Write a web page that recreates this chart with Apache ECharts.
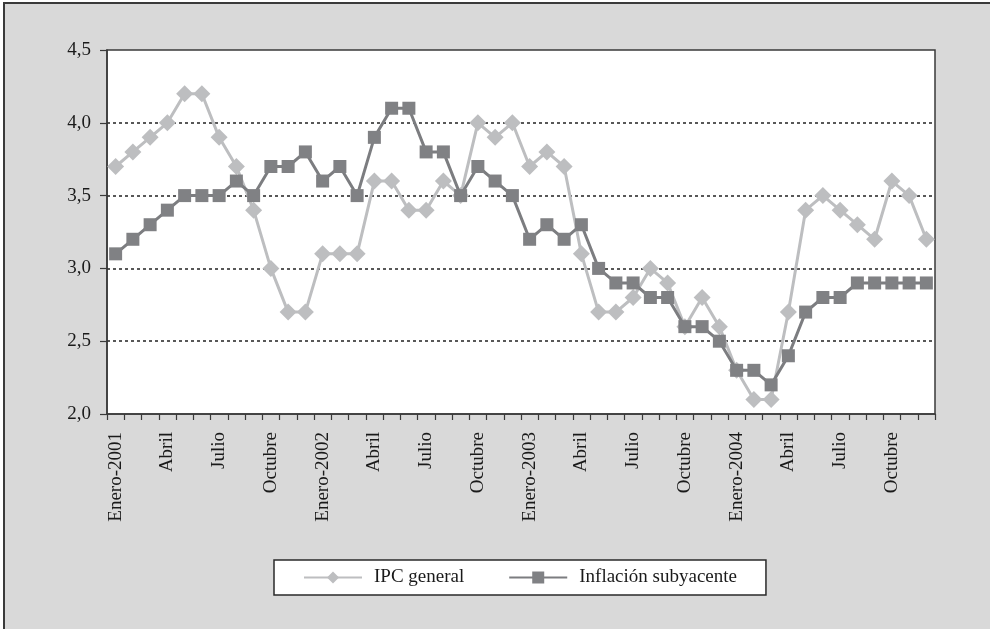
<!DOCTYPE html>
<html>
<head>
<meta charset="utf-8">
<style>
  html, body { margin: 0; padding: 0; background: #ffffff; }
  #chart { width: 990px; height: 629px; }
</style>
<script src="https://cdn.jsdelivr.net/npm/echarts@6/dist/echarts.min.js"></script>
</head>
<body>
<div id="chart"></div>
<script>
// Monthly series, January 2001 to December 2004
const monthNames = ['Enero', 'Febrero', 'Marzo', 'Abril', 'Mayo', 'Junio',
  'Julio', 'Agosto', 'Septiembre', 'Octubre', 'Noviembre', 'Diciembre'];
const years = [2001, 2002, 2003, 2004];

// IPC general (%)
const ipcGeneral = [
  3.7, 3.8, 3.9, 4.0, 4.2, 4.2, 3.9, 3.7, 3.4, 3.0, 2.7, 2.7,
  3.1, 3.1, 3.1, 3.6, 3.6, 3.4, 3.4, 3.6, 3.5, 4.0, 3.9, 4.0,
  3.7, 3.8, 3.7, 3.1, 2.7, 2.7, 2.8, 3.0, 2.9, 2.6, 2.8, 2.6,
  2.3, 2.1, 2.1, 2.7, 3.4, 3.5, 3.4, 3.3, 3.2, 3.6, 3.5, 3.2
];

// Inflación subyacente (%)
const inflacionSubyacente = [
  3.1, 3.2, 3.3, 3.4, 3.5, 3.5, 3.5, 3.6, 3.5, 3.7, 3.7, 3.8,
  3.6, 3.7, 3.5, 3.9, 4.1, 4.1, 3.8, 3.8, 3.5, 3.7, 3.6, 3.5,
  3.2, 3.3, 3.2, 3.3, 3.0, 2.9, 2.9, 2.8, 2.8, 2.6, 2.6, 2.5,
  2.3, 2.3, 2.2, 2.4, 2.7, 2.8, 2.8, 2.9, 2.9, 2.9, 2.9, 2.9
];

// Category labels: January carries the year, the rest only the month name
const categories = [];
years.forEach(y => monthNames.forEach((m, i) => {
  categories.push(i === 0 ? m + '-' + y : m);
}));

const FONT = 'Liberation Serif';
const TEXT = '#1a1a1a';
const FONT_SIZE = 19;

const chart = echarts.init(document.getElementById('chart'), null, { renderer: 'canvas' });
chart.setOption({
  animation: false,
  backgroundColor: '#ffffff',
  textStyle: { fontFamily: FONT, color: TEXT },
  graphic: [{
    type: 'rect',
    z: -10,
    silent: true,
    shape: { x: 4, y: 3, width: 1010, height: 660 },
    style: { fill: '#d9d9d9', stroke: '#3a3a3a', lineWidth: 2 }
  }],
  grid: {
    left: 107, top: 50, right: 55, bottom: 215,
    show: true,
    backgroundColor: '#ffffff',
    borderColor: '#3a3a3a',
    borderWidth: 1.5
  },
  legend: {
    left: 274, top: 560,
    padding: [8, 29, 8, 29],
    itemGap: 44,
    itemWidth: 58,
    itemHeight: 15,
    backgroundColor: '#ffffff',
    borderColor: '#2a2a2a',
    borderWidth: 1.5,
    borderRadius: 0,
    textStyle: { fontFamily: FONT, fontSize: FONT_SIZE, color: TEXT, padding: [0, 0, 0, 7] },
    data: ['IPC general', 'Inflación subyacente']
  },
  xAxis: {
    type: 'category',
    boundaryGap: true,
    data: categories,
    axisLine: { show: true, lineStyle: { color: '#3a3a3a', width: 1.5 } },
    axisTick: { show: true, interval: 0, length: 6, inside: false, lineStyle: { color: '#3a3a3a', width: 1.2 } },
    axisLabel: {
      interval: 2,
      rotate: 90,
      margin: 18,
      fontFamily: FONT,
      fontSize: FONT_SIZE,
      color: TEXT
    },
    splitLine: { show: false }
  },
  yAxis: {
    type: 'value',
    min: 2.0, max: 4.5, interval: 0.5,
    axisLine: { show: true, lineStyle: { color: '#3a3a3a', width: 1.5 } },
    axisTick: { show: true, length: 7, lineStyle: { color: '#3a3a3a', width: 1.2 } },
    axisLabel: {
      margin: 16,
      fontFamily: FONT,
      fontSize: FONT_SIZE,
      color: TEXT,
      formatter: v => v.toFixed(1).replace('.', ',')
    },
    splitLine: {
      show: true,
      showMinLine: false,
      showMaxLine: false,
      lineStyle: { color: '#222222', width: 1.5, type: [3, 3] }
    }
  },
  series: [
    {
      name: 'IPC general',
      type: 'line',
      data: ipcGeneral,
      symbol: 'diamond',
      symbolSize: 17,
      showAllSymbol: true,
      lineStyle: { color: '#bdbec0', width: 3 },
      itemStyle: { color: '#bdbec0' },
      z: 2
    },
    {
      name: 'Inflación subyacente',
      type: 'line',
      data: inflacionSubyacente,
      symbol: 'rect',
      symbolSize: 13,
      showAllSymbol: true,
      lineStyle: { color: '#7c7d80', width: 3 },
      itemStyle: { color: '#808184' },
      z: 3
    }
  ]
});
</script>
</body>
</html>
